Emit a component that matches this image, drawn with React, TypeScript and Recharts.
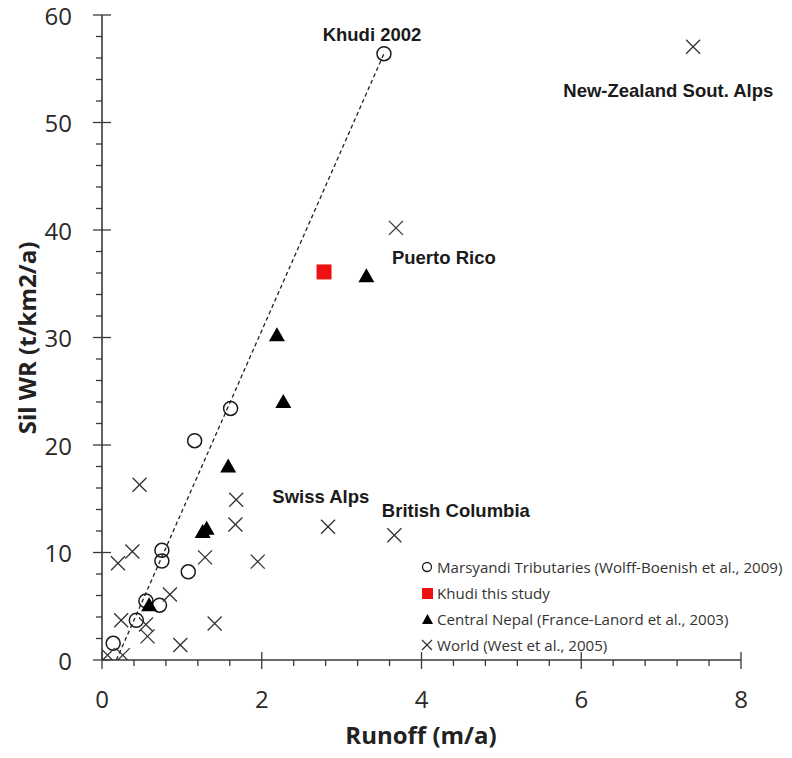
import { ScatterChart, Scatter, XAxis, YAxis, ReferenceDot } from 'recharts';

const X_TICKS = [0, 0.4, 0.8, 1.2, 1.6, 2, 2.4, 2.8, 3.2, 3.6, 4, 4.4, 4.8, 5.2, 5.6, 6, 6.4, 6.8, 7.2, 7.6, 8];
const X_MAJOR = [0, 2, 4, 6, 8];
const Y_TICKS = [0, 2, 4, 6, 8, 10, 12, 14, 16, 18, 20, 22, 24, 26, 28, 30, 32, 34, 36, 38, 40, 42, 44, 46, 48, 50, 52, 54, 56, 58, 60];
const Y_MAJOR = [0, 10, 20, 30, 40, 50, 60];

// Marsyandi tributaries (open circles)
const MARSYANDI_X = [3.53, 1.61, 1.16, 0.75, 0.75, 1.08, 0.55, 0.72, 0.43, 0.14];
const MARSYANDI_Y = [56.4, 23.4, 20.4, 10.2, 9.2, 8.2, 5.5, 5.1, 3.7, 1.55];

// Khudi this study (red square)
const KHUDI_X = [2.78];
const KHUDI_Y = [36.1];

// Central Nepal (black triangles)
const NEPAL_X = [3.31, 2.19, 2.27, 1.58, 1.31, 1.26, 0.59];
const NEPAL_Y = [35.7, 30.2, 24.0, 18.0, 12.2, 11.9, 5.1];

// World (crosses)
const WORLD_X = [7.4, 3.68, 2.83, 3.66, 0.47, 1.68, 1.67, 0.38, 0.2, 1.29, 1.95, 0.85, 0.24, 0.55, 0.57, 1.41, 0.98, 0.07, 0.26];
const WORLD_Y = [57.05, 40.2, 12.4, 11.6, 16.3, 14.9, 12.6, 10.1, 9.0, 9.55, 9.15, 6.1, 3.7, 3.3, 2.2, 3.4, 1.4, 0.45, 0.45];

// dashed regression line end points
const TREND_X = [0.18, 3.53];
const TREND_Y = [0, 56.4];

const NOTE_TEXT = ['Khudi 2002', 'New-Zealand Sout. Alps', 'Puerto Rico', 'Swiss Alps', 'British Columbia'];
const NOTE_X = [3.38, 7.09, 4.28, 2.74, 4.43];
const NOTE_Y = [58.2, 53.0, 37.4, 15.2, 13.9];

const LEGEND_LABELS = [
  'Marsyandi Tributaries (Wolff-Boenish et al., 2009)',
  'Khudi this study',
  'Central Nepal (France-Lanord et al., 2003)',
  'World (West et al., 2005)',
];

const zip = (xs: number[], ys: number[]) => xs.map((x, i) => ({ x, y: ys[i] }));

const AXIS = '#3a3a3a';
const TICK_FONT = '"Open Sans", sans-serif';

const XTick = (props: any) => {
  const { x, y, payload } = props;
  const major = X_MAJOR.includes(payload.value);
  return (
    <g>
      <line x1={x} x2={x} y1={major ? y - 8 : y} y2={y + (major ? 9 : 6)} stroke={AXIS} strokeWidth={1.3} />
      {major && (
        <text x={x} y={y + 38} textAnchor="middle" dominantBaseline="central" fontSize={24} fill="#2a2a2a" fontFamily={TICK_FONT}>
          {payload.value}
        </text>
      )}
    </g>
  );
};

const YTick = (props: any) => {
  const { x, y, payload } = props;
  const major = Y_MAJOR.includes(payload.value);
  return (
    <g>
      <line x1={major ? x - 9 : x - 6} x2={major ? x + 9 : x} y1={y} y2={y} stroke={AXIS} strokeWidth={1.3} />
      {major && (
        <text x={x - 30} y={y} textAnchor="end" dominantBaseline="central" fontSize={24} fill="#2a2a2a" fontFamily={TICK_FONT}>
          {payload.value}
        </text>
      )}
    </g>
  );
};

const OpenCircle = ({ cx, cy }: any) => (
  <circle cx={cx} cy={cy} r={7} fill="none" stroke="#1a1a1a" strokeWidth={1.5} />
);

const RedSquare = ({ cx, cy }: any) => (
  <rect x={cx - 7.5} y={cy - 7.5} width={15} height={15} fill="#ee1111" />
);

const Triangle = ({ cx, cy }: any) => (
  <path d={`M${cx},${cy - 8} L${cx + 8},${cy + 6} L${cx - 8},${cy + 6} Z`} fill="#000" />
);

const Cross = ({ cx, cy }: any) => (
  <g stroke="#333" strokeWidth={1.3}>
    <line x1={cx - 7} y1={cy - 7} x2={cx + 7} y2={cy + 7} />
    <line x1={cx - 7} y1={cy + 7} x2={cx + 7} y2={cy - 7} />
  </g>
);

const Empty = () => <g />;

const legendIcon = (i: number) => {
  if (i === 0) return <circle cx={6} cy={8} r={4.5} fill="none" stroke="#222" strokeWidth={1.3} />;
  if (i === 1) return <rect x={1} y={3} width={11} height={11} fill="#ee1111" />;
  if (i === 2) return <path d="M6.5,3 L12,13 L1,13 Z" fill="#000" />;
  return (
    <g stroke="#333" strokeWidth={1.2}>
      <line x1={1} y1={3} x2={11} y2={13} />
      <line x1={1} y1={13} x2={11} y2={3} />
    </g>
  );
};

export default function App() {
  return (
    <div style={{ position: 'absolute', left: 0, top: 0, width: 792, height: 758, background: '#fff' }}>
      <ScatterChart width={792} height={758} margin={{ top: 15, right: 51, left: 0, bottom: 0 }}>
        <XAxis
          type="number"
          dataKey="x"
          domain={[0, 8]}
          ticks={X_TICKS}
          interval={0}
          tick={<XTick />}
          tickLine={false}
          tickSize={0}
          tickMargin={0}
          height={98}
          axisLine={{ stroke: AXIS, strokeWidth: 1.6 }}
          allowDataOverflow
        />
        <YAxis
          type="number"
          dataKey="y"
          domain={[0, 60]}
          ticks={Y_TICKS}
          interval={0}
          tick={<YTick />}
          tickLine={false}
          tickSize={0}
          tickMargin={0}
          width={102}
          axisLine={{ stroke: AXIS, strokeWidth: 1.6 }}
          allowDataOverflow
        />
        <Scatter
          name="trend"
          data={zip(TREND_X, TREND_Y)}
          line={{ stroke: '#222', strokeWidth: 1.3, strokeDasharray: '4 3' }}
          shape={<Empty />}
          legendType="none"
          isAnimationActive={false}
        />
        <Scatter name="Marsyandi" data={zip(MARSYANDI_X, MARSYANDI_Y)} shape={<OpenCircle />} isAnimationActive={false} />
        <Scatter name="Khudi" data={zip(KHUDI_X, KHUDI_Y)} shape={<RedSquare />} isAnimationActive={false} />
        <Scatter name="Nepal" data={zip(NEPAL_X, NEPAL_Y)} shape={<Triangle />} isAnimationActive={false} />
        <Scatter name="World" data={zip(WORLD_X, WORLD_Y)} shape={<Cross />} isAnimationActive={false} />
        {NOTE_TEXT.map((t, i) => (
          <ReferenceDot
            key={t}
            x={NOTE_X[i]}
            y={NOTE_Y[i]}
            ifOverflow="visible"
            shape={(p: any) => (
              <text
                x={p.cx}
                y={p.cy}
                textAnchor="middle"
                dominantBaseline="central"
                fontFamily='"Liberation Sans", Arial, sans-serif'
                fontWeight="bold"
                fontSize={18.5}
                fill="#1a1a1a"
              >
                {t}
              </text>
            )}
          />
        ))}
      </ScatterChart>
      <div style={{ position: 'absolute', left: 421, top: 554, fontFamily: TICK_FONT, fontSize: 15.1, color: '#333' }}>
        {LEGEND_LABELS.map((label, i) => (
          <div key={label} style={{ display: 'flex', alignItems: 'center', height: 26, whiteSpace: 'nowrap' }}>
            <svg width={14} height={16} style={{ marginRight: 2 }}>
              {legendIcon(i)}
            </svg>
            <span>{label}</span>
          </div>
        ))}
      </div>
      <div
        style={{
          position: 'absolute',
          left: 421,
          top: 734,
          transform: 'translate(-50%, -50%)',
          fontFamily: TICK_FONT,
          fontWeight: 'bold',
          fontSize: 24,
          color: '#222',
          whiteSpace: 'nowrap',
        }}
      >
        Runoff (m/a)
      </div>
      <div
        style={{
          position: 'absolute',
          left: 26,
          top: 338,
          transform: 'translate(-50%, -50%) rotate(-90deg)',
          fontFamily: TICK_FONT,
          fontWeight: 'bold',
          fontSize: 24,
          color: '#222',
          whiteSpace: 'nowrap',
        }}
      >
        Sil WR (t/km2/a)
      </div>
    </div>
  );
}
